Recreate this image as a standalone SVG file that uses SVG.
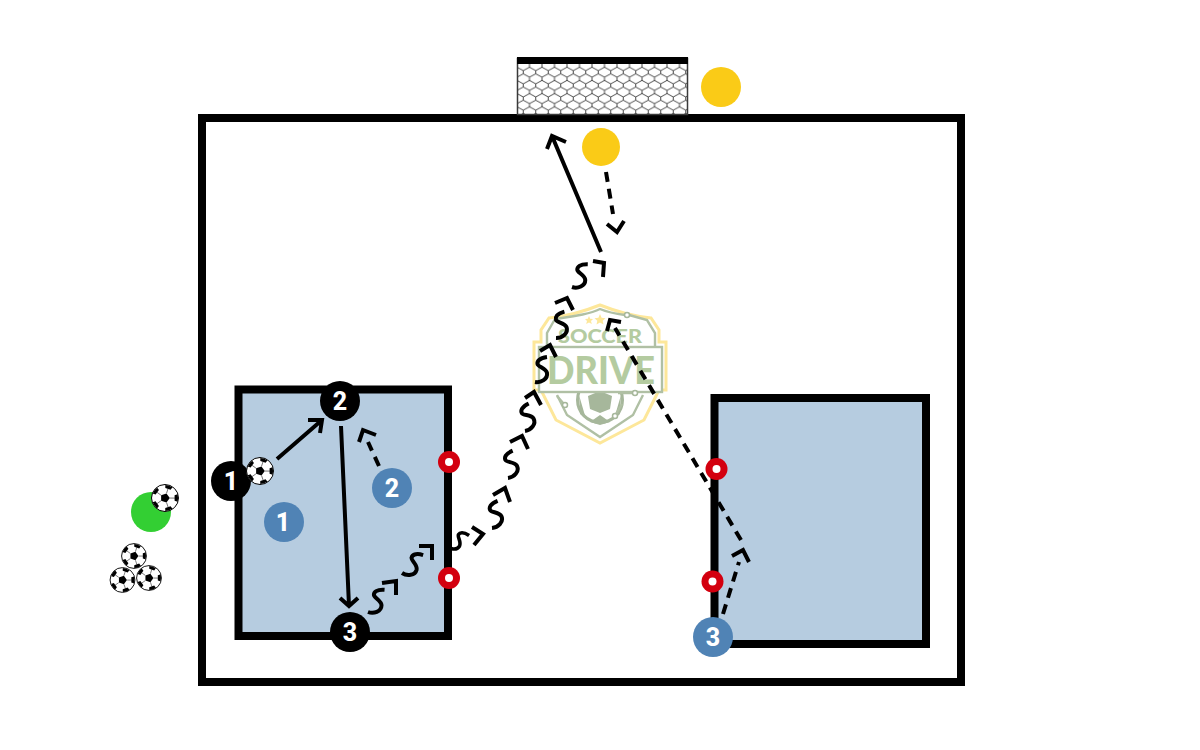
<svg xmlns="http://www.w3.org/2000/svg" width="1200" height="750" viewBox="0 0 1200 750">
<style>
.zone{fill:#b6cce0;stroke:#000;stroke-width:8}
.tk{fill:#000}.bl{fill:#5083b5}
.num{font-family:Roboto,"Liberation Sans",sans-serif;font-weight:800;font-size:25px;fill:#fff;text-anchor:middle}
.ln{fill:none;stroke:#000;stroke-width:4}
.da{fill:none;stroke:#000;stroke-width:4;stroke-dasharray:10 7}
.wg{fill:none;stroke:#000;stroke-width:4}
.ring{fill:#d3000f}.hole{fill:#fff}
.lg{fill:none;stroke:#b0c0a4;stroke-width:2.400}
.nd{fill:#fff;stroke:#a6b79b;stroke-width:1.500}
.lgt{font-family:Lato,"Liberation Sans",sans-serif;font-weight:900;fill:#b4cba0;text-anchor:middle}
</style>
<defs>
<pattern id="net" width="12.5" height="13.2" patternUnits="userSpaceOnUse" x="517" y="64">
<path d="M0 0V3.200L6.250 6.600L12.500 3.200V0M6.250 6.600V9.800L0 13.200M6.250 9.800L12.500 13.200" fill="none" stroke="#000" stroke-width="0.700"/>
</pattern>
<clipPath id="bc"><circle r="13"/></clipPath>
<path id="w" d="M0 0C-1 6 3 13 9 12C14 11 15 3 18 2.500C20.500 2 24 4 25 12"/>
<polygon id="p" points="0,-4.800 4.560,-1.480 2.820,3.880 -2.820,3.880 -4.560,-1.480"/>
<g id="ball">
<circle r="13.500" fill="#fff" stroke="#000" stroke-width="1"/>
<g clip-path="url(#bc)" transform="rotate(18)">
<path d="M0 -5V-10M4.800 -1.500L9.500 -3M3 4L6 8M-3 4L-6 8M-4.800 -1.500L-9.500 -3" fill="none" stroke="#000" stroke-width="0.500"/>
<use href="#p"/>
<use href="#p" transform="translate(0 -13.500)"/>
<use href="#p" transform="translate(12.800 -4.200) rotate(72)"/>
<use href="#p" transform="translate(7.900 10.900) rotate(144)"/>
<use href="#p" transform="translate(-7.900 10.900) rotate(216)"/>
<use href="#p" transform="translate(-12.800 -4.200) rotate(288)"/>
</g>
</g>
</defs>
<rect width="1200" height="750" fill="#fff"/>

<g id="field"><rect x="202" y="118" width="759" height="564" fill="#fff" stroke="#000" stroke-width="8"/></g>

<g id="goal">
<rect x="517.500" y="58.500" width="170" height="56" fill="#fff" stroke="#3a3a3a" stroke-width="1.500"/>
<rect x="518" y="64" width="169" height="50" fill="url(#net)"/>
<rect x="517" y="57" width="171" height="7" fill="#000"/>
</g>

<g id="zone-left"><rect class="zone" x="238.500" y="389.500" width="209.500" height="246.500"/></g>
<g id="zone-right"><rect class="zone" x="714.500" y="398" width="211.500" height="246"/></g>

<g id="logo">
<path d="M600 305C580 313 560 317 549 318L541 330V342H534V390H541L556 420L600 443L644 420L659 390H666V342H659V330L651 318C640 317 620 313 600 305Z" fill="#fff" stroke="#fde79a" stroke-width="3"/>
<path class="lg" d="M547 347V333L555 319C575 316 590 314 600 309C607 312 617 314 625 315M629 315L647 320L655 333V347M557 395L567 415L600 437L633 415L643 395"/>
<circle cx="600" cy="400" r="22.500" fill="#fff" stroke="#a6b79b" stroke-width="3"/>
<polygon points="600,391 588,396 590,409 600,413 610,409 612,396" fill="#a6b79b"/>
<polygon points="600,415 590,422 600,425 610,422" fill="#a6b79b"/>
<path d="M579 395L580 414L586 419Z M621 395L620 414L614 419Z" fill="#a6b79b"/>
<rect x="539" y="347" width="123" height="45" fill="#fff" stroke="#b0c0a4" stroke-width="2.400"/>
<path class="lg" d="M557 396L564 404M618 393H632M616 414L622 404"/>
<circle class="nd" cx="627" cy="315" r="2.500"/>
<circle class="nd" cx="635" cy="393" r="2.500"/>
<circle class="nd" cx="565" cy="405" r="2.500"/>
<circle class="nd" cx="615" cy="416" r="2.500"/>
<polygon points="589,316 590.200,318.800 593,319 591,321 591.800,324 589,322.500 586.200,324 587,321 585,319 587.800,318.800" fill="#fde79a"/>
<polygon points="600,314 601.600,317.800 605.500,318.200 602.700,320.800 603.500,324.500 600,322.500 596.500,324.500 597.300,320.800 594.500,318.200 598.400,317.800" fill="#fde79a"/>
<text class="lgt" x="600" y="343" font-size="19" textLength="84" lengthAdjust="spacingAndGlyphs">SOCCER</text>
<text class="lgt" x="601" y="384" font-size="38" textLength="108" lengthAdjust="spacingAndGlyphs">DRIVE</text>
</g>

<g id="connectors">
<path class="ln" d="M277 459L322 420M308 420L322 420L320 433"/>
<path class="ln" d="M341 426L349 606M340 598L349 606L358 598"/>
<path class="ln" d="M601 252L552 136M547 149L552 136L566 142"/>
<path class="da" d="M606 172L613 214"/>
<path class="ln" d="M607 224L617 232L624 221"/>
<path class="da" d="M379 466L368 442"/>
<path class="ln" d="M359 442L363 430L376 435"/>
<path class="da" d="M723 614L739 562"/>
<path class="ln" d="M732 556L743 550L749 562"/>
<path class="da" d="M741 540L615 328"/>
<path class="ln" d="M607 331L610 320L621 322"/>
<g class="wg">
<use href="#w" transform="translate(368 612) rotate(-79)"/>
<path d="M382 583L396 581L396 595"/>
<use href="#w" transform="translate(402 573) rotate(-66)"/>
<path d="M419 546L432 546L432 560"/>
<use href="#w" transform="translate(446 545) rotate(-48) scale(.9)"/>
<path d="M472 527L483 534L474 545"/>
<use href="#w" transform="translate(492 528) rotate(-104)"/>
<path d="M493 495L505 488L510 502"/>
<use href="#w" transform="translate(508 478) rotate(-106)"/>
<path d="M510 442L522 436L528 449"/>
<use href="#w" transform="translate(525 431) rotate(-108)"/>
<path d="M525 398L534 392L541 405"/>
<use href="#w" transform="translate(535 382) rotate(-90)"/>
<path d="M540 351L550 345L556 357"/>
<use href="#w" transform="translate(556 338) rotate(-98)"/>
<path d="M555 303L567 298L573 310"/>
<use href="#w" transform="translate(572 287) rotate(-81)"/>
<path d="M593 261L604 263L603 277"/>
</g>
</g>

<g id="cone-1"><circle class="ring" cx="449" cy="462" r="11"/><circle class="hole" cx="449" cy="462" r="4"/></g>
<g id="cone-2"><circle class="ring" cx="449" cy="578" r="11"/><circle class="hole" cx="449" cy="578" r="4"/></g>
<g id="cone-3"><circle class="ring" cx="716.500" cy="469" r="11"/><circle class="hole" cx="716.500" cy="469" r="4"/></g>
<g id="cone-4"><circle class="ring" cx="712.500" cy="581.500" r="11"/><circle class="hole" cx="712.500" cy="581.500" r="4"/></g>

<g id="keeper-a"><circle cx="721" cy="87" r="20" fill="#facb17"/></g>
<g id="keeper-b"><circle cx="601" cy="147" r="19" fill="#facb17"/></g>
<g id="coach"><circle cx="151" cy="512" r="20" fill="#33cf33"/></g>

<g id="black-1"><circle class="tk" cx="231" cy="481" r="20"/><text class="num" x="231" y="490">1</text></g>
<g id="black-2"><circle class="tk" cx="340" cy="401" r="20"/><text class="num" x="340" y="410">2</text></g>
<g id="black-3"><circle class="tk" cx="350" cy="632" r="20"/><text class="num" x="350" y="641">3</text></g>
<g id="blue-1"><circle class="bl" cx="284" cy="522" r="20"/><text class="num" x="283" y="531">1</text></g>
<g id="blue-2"><circle class="bl" cx="392" cy="488" r="20"/><text class="num" x="392" y="497">2</text></g>
<g id="blue-3"><circle class="bl" cx="713" cy="637" r="20"/><text class="num" x="713" y="646">3</text></g>

<g id="ball-1"><use href="#ball" transform="translate(260 471)"/></g>
<g id="ball-2"><use href="#ball" transform="translate(165 498)"/></g>
<g id="ball-3"><use href="#ball" transform="translate(134 556) scale(.92)"/></g>
<g id="ball-4"><use href="#ball" transform="translate(122.500 580) scale(.92)"/></g>
<g id="ball-5"><use href="#ball" transform="translate(149 578) scale(.92)"/></g>
</svg>
